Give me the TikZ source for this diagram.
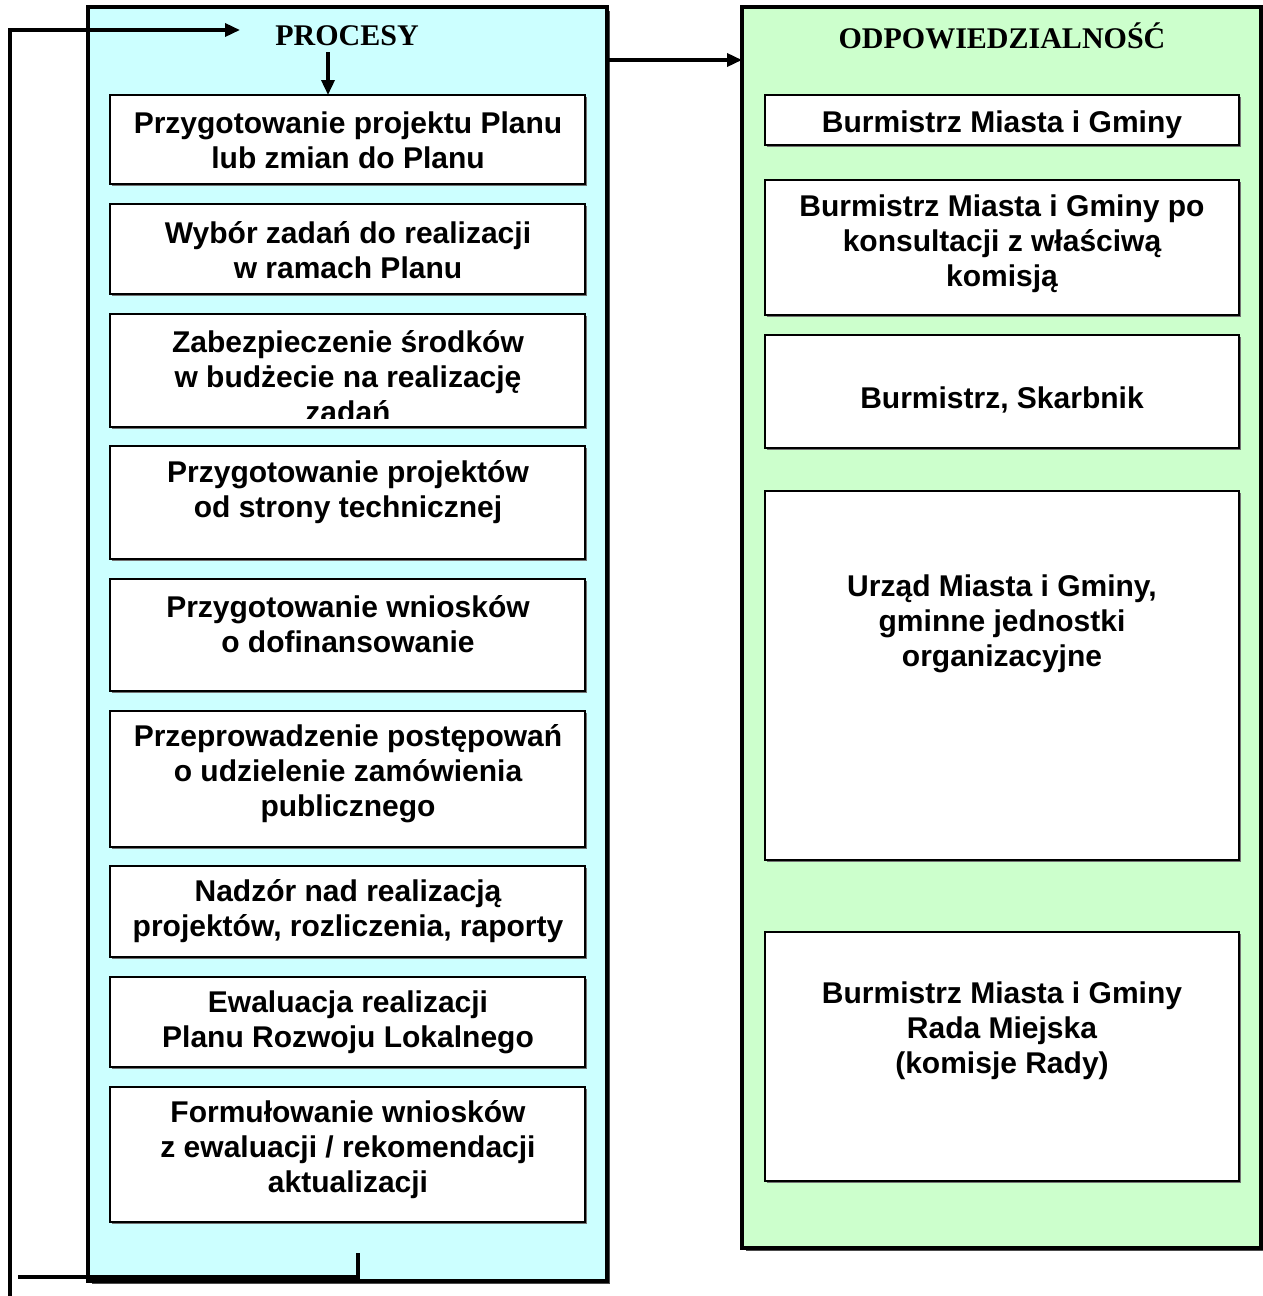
\documentclass[tikz,border=0pt]{standalone}
\usepackage{fontspec}
\setmainfont{Liberation Sans}
\newfontfamily\hdrfont{Liberation Serif}
\usetikzlibrary{arrows.meta}
\definecolor{cyanbg}{HTML}{CCFFFF}
\definecolor{greenbg}{HTML}{CCFFCC}
\begin{document}
\begin{tikzpicture}[x=1pt,y=-1pt,
  panel/.style={draw=black,line width=3.5pt,inner sep=0pt,outer sep=0pt},
  itembox/.style={draw=black,fill=white,line width=2pt,inner sep=0pt,outer sep=0pt},
  itemtext/.style={font=\bfseries\fontsize{30}{35}\selectfont,align=center,inner sep=0pt},
  hdr/.style={font=\hdrfont\bfseries\fontsize{30}{32}\selectfont,inner sep=0pt},
  conn/.style={line width=3.5pt,line cap=rect},
  arr/.style={line width=3.5pt,-{Triangle[length=15pt,width=13pt]}}
]
\useasboundingbox (0,0) rectangle (1262,1296);
% shadows
\fill[black!70] (92,11) rectangle (610,1284);
\fill[black!70] (746,11) rectangle (1264,1251);
% panels
\node[panel,fill=cyanbg,minimum width=519pt,minimum height=1274pt] (L) at (347.5,644) {};
\node[panel,fill=greenbg,minimum width=519pt,minimum height=1241pt] (R) at (1001.5,627.5) {};
% headers
\node[hdr] (hl) at (347,36) {PROCESY};
\node[hdr] (hr) at (1002,36) {ODPOWIEDZIALNOŚĆ};
% left boxes
\foreach \n/\ya/\yb in {p1/95/184,p2/204/294,p3/314/427,p4/446/559,p5/579/691,p6/711/847,p7/866/957,p8/977/1067,p9/1087/1222}{
  \fill[black!55] (112,\ya+2) rectangle (587,\yb+2);
  \node[itembox,minimum width=475pt,minimum height={\yb-\ya}] (\n) at (347.5,{(\ya+\yb)/2}) {};
}
\foreach \n/\ya/\yb in {r1/95/145,r2/180/315,r3/335/448,r4/491/860,r5/932/1181}{
  \fill[black!55] (767,\ya+2) rectangle (1241,\yb+2);
  \node[itembox,minimum width=474pt,minimum height={\yb-\ya}] (\n) at (1002,{(\ya+\yb)/2}) {};
}
% left texts
\node[itemtext] (t1) at (348,140) {Przygotowanie projektu Planu\\lub zmian do Planu};
\node[itemtext] (t2) at (348,250) {Wybór zadań do realizacji\\w ramach Planu};
\begin{scope}
\clip (112,316) rectangle (584,418);
\node[itemtext] (t3) at (348,377) {Zabezpieczenie środków\\w budżecie na realizację\\zadań};
\end{scope}
\node[itemtext] (t4) at (348,492) {Przygotowanie projektów\\od strony technicznej};
\node[itemtext] (t5) at (348,624) {Przygotowanie wniosków\\o dofinansowanie};
\node[itemtext] (t6) at (348,774) {Przeprowadzenie postępowań\\o udzielenie zamówienia\\publicznego};
\node[itemtext] (t7) at (348,911) {Nadzór nad realizacją\\projektów, rozliczenia, raporty};
\node[itemtext] (t8) at (348,1022) {Ewaluacja realizacji\\Planu Rozwoju Lokalnego};
\node[itemtext] (t9) at (348,1150) {Formułowanie wniosków\\z ewaluacji / rekomendacji\\aktualizacji};
% right texts
\node[itemtext] (u1) at (1002,125) {Burmistrz Miasta i Gminy};
\node[itemtext] (u2) at (1002,244) {Burmistrz Miasta i Gminy po\\konsultacji z właściwą\\komisją};
\node[itemtext] (u3) at (1002,400) {Burmistrz, Skarbnik};
\node[itemtext] (u4) at (1002,624) {Urząd Miasta i Gminy,\\gminne jednostki\\organizacyjne};
\node[itemtext] (u5) at (1002,1031) {Burmistrz Miasta i Gminy\\Rada Miejska\\(komisje Rady)};
% connectors
\coordinate (la) at (10,1296);
\coordinate (lb) at (10,30);
\coordinate (lc) at (240,30);
\draw[arr] (la) -- (lb) -- (lc);
\coordinate (da) at (328,52);
\draw[arr] (da) -- (da |- p1.north);
\coordinate (ba) at (20,1277);
\coordinate (bb) at (358,1277);
\coordinate (bc) at (358,1255);
\draw[conn] (ba) -- (bb) -- (bc);
\coordinate (ra) at (607,60);
\draw[arr] (ra) -- (ra -| R.west);
\end{tikzpicture}
\end{document}
